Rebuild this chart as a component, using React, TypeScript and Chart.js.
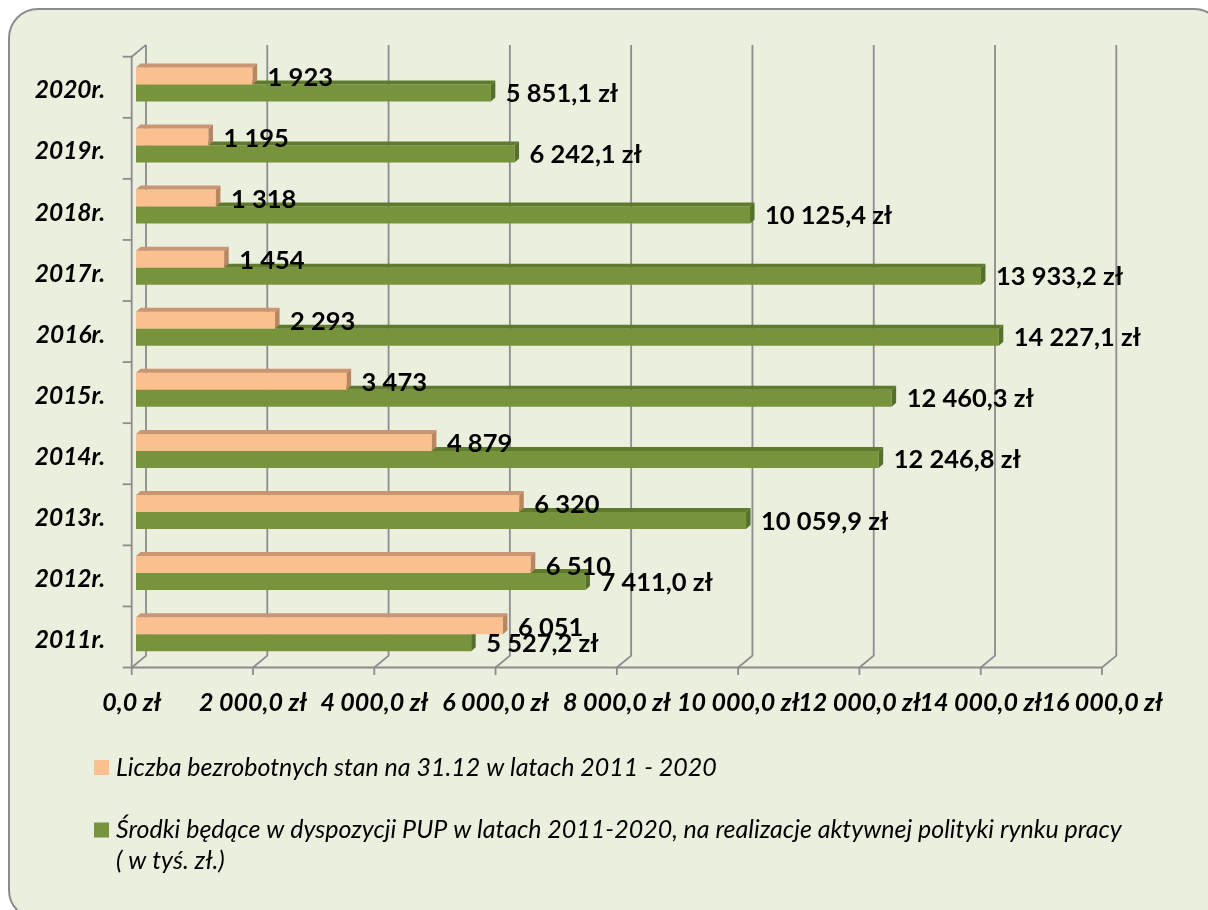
import React, { useEffect, useRef } from "react";
import { Chart, registerables } from "chart.js";

Chart.register(...registerables);

const YEARS = ["2011r.", "2012r.", "2013r.", "2014r.", "2015r.", "2016r.", "2017r.", "2018r.", "2019r.", "2020r."];
const UNEMPLOYED = [6051, 6510, 6320, 4879, 3473, 2293, 1454, 1318, 1195, 1923];
const FUNDS = [5527.2, 7411.0, 10059.9, 12246.8, 12460.3, 14227.1, 13933.2, 10125.4, 6242.1, 5851.1];
const X_MIN = 0;
const X_MAX = 16000;
const X_STEP = 2000;
const SERIES_NAMES = [
  "Liczba bezrobotnych stan na 31.12 w latach 2011 - 2020",
  "Środki będące w dyspozycji PUP w latach 2011-2020, na realizacje aktywnej polityki rynku pracy",
];
const SERIES2_LINE2 = "( w tyś. zł.)";

const FONT = "Lato, 'Open Sans', sans-serif";
const ORANGE = "#FAC090";
const ORANGE_TOP = "#C99572";
const ORANGE_SIDE = "#B8865F";
const GREEN = "#77933C";
const GREEN_TOP = "#5E7A2D";
const GREEN_SIDE = "#55702A";
const GRID = "#8C8C8C";

// depth geometry (front wall -> bar layer -> back wall)
const FRONT_DX = -4.3;
const FRONT_DY = 2.8;
const BACK_DX = 10;
const BACK_DY = -9;
const BAR_DX = 4.5;
const BAR_DY = 4;

const fmtInt = (n: number) => String(Math.round(n)).replace(/\B(?=(\d{3})+(?!\d))/g, " ");
const fmtZl = (n: number) => {
  const [i, d] = n.toFixed(1).split(".");
  return fmtInt(Number(i)) + "," + d + " zł";
};

const threeD = {
  id: "threeD",
  beforeDatasetsDraw(chart: any) {
    const { ctx, chartArea, scales } = chart;
    const xs = scales.x;
    const ys = scales.y;
    ctx.save();
    ctx.strokeStyle = GRID;
    ctx.lineWidth = 1.8;
    ctx.lineCap = "butt";
    const fTop = chartArea.top + FRONT_DY;
    const fBot = chartArea.bottom + FRONT_DY;
    const bTop = chartArea.top + BACK_DY;
    const bBot = chartArea.bottom + BACK_DY;
    for (let v = X_MIN; v <= X_MAX; v += X_STEP) {
      const px = xs.getPixelForValue(v);
      const fx = px + FRONT_DX;
      const bx = px + BACK_DX;
      ctx.beginPath();
      ctx.moveTo(bx, bTop);
      ctx.lineTo(bx, bBot);
      ctx.lineTo(fx, fBot);
      ctx.lineTo(fx, fBot + 7.5);
      ctx.stroke();
    }
    const fx0 = xs.getPixelForValue(X_MIN) + FRONT_DX;
    const fx1 = xs.getPixelForValue(X_MAX) + FRONT_DX;
    ctx.beginPath();
    ctx.moveTo(fx0, fBot);
    ctx.lineTo(fx1, fBot);
    ctx.stroke();
    ctx.beginPath();
    ctx.moveTo(fx0 + (BACK_DX - FRONT_DX), bTop);
    ctx.lineTo(fx0, fTop);
    ctx.lineTo(fx0, fBot);
    ctx.stroke();
    const n = ys.ticks.length;
    const band = (fBot - fTop) / n;
    for (let i = 0; i <= n; i++) {
      const y = fTop + i * band;
      ctx.beginPath();
      ctx.moveTo(fx0 - 9, y);
      ctx.lineTo(fx0, y);
      ctx.stroke();
    }
    ctx.restore();
  },
  afterDatasetDraw(chart: any, args: any) {
    const { ctx } = chart;
    const meta = args.meta;
    const isOrange = args.index === 0;
    ctx.save();
    meta.data.forEach((bar: any) => {
      const props = bar.getProps(["x", "y", "base", "height"], true);
      const top = props.y - props.height / 2;
      const bottom = props.y + props.height / 2;
      const x0 = props.base;
      const x1 = props.x;
      ctx.fillStyle = isOrange ? ORANGE_TOP : GREEN_TOP;
      ctx.beginPath();
      ctx.moveTo(x0, top);
      ctx.lineTo(x0 + BAR_DX, top - BAR_DY);
      ctx.lineTo(x1 + BAR_DX, top - BAR_DY);
      ctx.lineTo(x1, top);
      ctx.closePath();
      ctx.fill();
      ctx.fillStyle = isOrange ? ORANGE_SIDE : GREEN_SIDE;
      ctx.beginPath();
      ctx.moveTo(x1, top);
      ctx.lineTo(x1 + BAR_DX, top - BAR_DY);
      ctx.lineTo(x1 + BAR_DX, bottom - BAR_DY);
      ctx.lineTo(x1, bottom);
      ctx.closePath();
      ctx.fill();
    });
    ctx.restore();
  },
  afterDatasetsDraw(chart: any) {
    const { ctx } = chart;
    ctx.save();
    ctx.fillStyle = "#000";
    ctx.font = `bold 25.5px ${FONT}`;
    ctx.textAlign = "left";
    ctx.textBaseline = "alphabetic";
    chart.data.datasets.forEach((ds: any, di: number) => {
      const meta = chart.getDatasetMeta(di);
      meta.data.forEach((bar: any, i: number) => {
        const props = bar.getProps(["x", "y"], true);
        const v = ds.data[i];
        const txt = di === 0 ? fmtInt(v) : fmtZl(v);
        ctx.fillText(txt, props.x + 15, props.y + 9 + (di === 0 ? 1 : 0));
      });
    });
    ctx.restore();
  },
  afterDraw(chart: any) {
    const { ctx } = chart;
    const colors = chart.data.datasets.map((d: any) => d.backgroundColor);
    ctx.save();
    ctx.font = `italic 25px ${FONT}`;
    ctx.textBaseline = "alphabetic";
    ctx.textAlign = "left";
    ctx.fillStyle = colors[0];
    ctx.fillRect(94, 760, 15, 15);
    ctx.fillStyle = "#000";
    ctx.fillText(chart.data.datasets[0].label, 116, 775.5);
    ctx.fillStyle = colors[1];
    ctx.fillRect(94, 822.5, 15, 15);
    ctx.fillStyle = "#000";
    ctx.fillText(chart.data.datasets[1].label, 116, 837.5);
    ctx.fillText(SERIES2_LINE2, 116, 869);
    ctx.restore();
  },
};

export default function App() {
  const ref = useRef<HTMLCanvasElement | null>(null);
  useEffect(() => {
    if (!ref.current) return;
    const XH = 60;
    const chart = new Chart(ref.current, {
      type: "bar",
      data: {
        labels: YEARS,
        datasets: [
          { label: SERIES_NAMES[0], data: UNEMPLOYED, backgroundColor: ORANGE, borderWidth: 0 },
          { label: SERIES_NAMES[1], data: FUNDS, backgroundColor: GREEN, borderWidth: 0 },
        ],
      },
      options: {
        indexAxis: "y",
        animation: false,
        responsive: false,
        events: [],
        layout: { padding: { left: 0, top: 53.9, right: 1208 - 1106.3, bottom: 910 - 664.7 - XH } },
        datasets: { bar: { categoryPercentage: 0.557, barPercentage: 1 } },
        plugins: { legend: { display: false }, tooltip: { enabled: false }, title: { display: false } },
        scales: {
          x: {
            type: "linear",
            min: X_MIN,
            max: X_MAX,
            grid: { display: false, drawTicks: false },
            border: { display: false },
            ticks: {
              stepSize: X_STEP,
              autoSkip: false,
              maxRotation: 0,
              minRotation: 0,
              padding: 23,
              labelOffset: FRONT_DX,
              color: "#000",
              font: { family: FONT, size: 25, weight: "bold", style: "italic" },
              callback: (v: any) => fmtZl(Number(v)),
            },
            afterFit: (s: any) => { s.height = XH; },
          },
          y: {
            type: "category",
            reverse: true,
            grid: { display: false, drawTicks: false },
            border: { display: false },
            ticks: {
              padding: 31,
              labelOffset: 6,
              color: "#000",
              font: { family: FONT, size: 24.5, weight: "bold", style: "italic" },
            },
            afterFit: (s: any) => { s.width = 136; },
          },
        },
      },
      plugins: [threeD],
    } as any);
    return () => chart.destroy();
  }, []);

  return (
    <div style={{ position: "fixed", left: 0, top: 0, width: 1208, height: 910, overflow: "hidden" }}>
      <div
        style={{
          position: "absolute",
          left: 8,
          top: 8,
          width: 1216,
          height: 912,
          boxSizing: "border-box",
          border: "2px solid #8C8C8C",
          borderRadius: 30,
          background: "#EBEFDE",
        }}
      />
      <canvas ref={ref} width={1208} height={910} style={{ position: "absolute", left: 0, top: 0 }} />
    </div>
  );
}
